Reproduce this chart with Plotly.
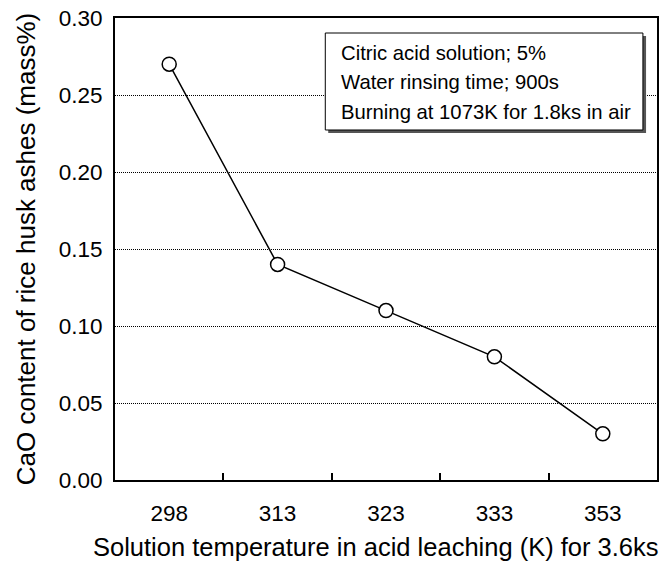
import plotly.graph_objects as go

temps = ["298", "313", "323", "333", "353"]
cao = [0.27, 0.14, 0.11, 0.08, 0.03]
y_ticks = [0.00, 0.05, 0.10, 0.15, 0.20, 0.25, 0.30]
notes = ["Citric acid solution; 5%", "Water rinsing time; 900s", "Burning at 1073K for 1.8ks in air"]
x_title = "Solution temperature in acid leaching (K) for 3.6ks"
y_title = "CaO content of rice husk ashes (mass%)"

FONT = "Liberation Sans, Arial, sans-serif"

fig = go.Figure()
fig.add_trace(go.Scatter(
    x=temps, y=cao, mode="lines+markers",
    line=dict(color="black", width=1.5),
    marker=dict(symbol="circle", size=14, color="white", line=dict(color="black", width=1.5)),
    showlegend=False, cliponaxis=False,
))

fig.update_layout(
    width=665, height=561,
    margin=dict(l=115, r=6, t=18, b=81),
    paper_bgcolor="white", plot_bgcolor="white",
    font=dict(family=FONT, color="black", size=22),
)
fig.update_xaxes(
    type="category", range=[-0.5, 4.5],
    showline=True, linecolor="black", linewidth=2, mirror=True,
    ticks="inside", tickson="boundaries", ticklen=7, tickwidth=1.5, tickcolor="black",
    showgrid=False, tickfont=dict(size=22.5), ticklabelstandoff=12,
)
fig.update_yaxes(
    range=[0, 0.30], tickvals=y_ticks, ticktext=[f"{v:.2f}" for v in y_ticks],
    showline=True, linecolor="black", linewidth=2, mirror=True,
    ticks="", showgrid=True, gridcolor="black", gridwidth=1, griddash="1px,1px",
    zeroline=False, tickfont=dict(size=22.5), ticklabelstandoff=6,
    title=dict(text=y_title, font=dict(size=26), standoff=16),
)

# x axis title (slightly left of centre, as in the reference)
fig.add_annotation(text=x_title, xref="paper", yref="paper", x=0.4816, y=-0.1104,
                   xanchor="center", yanchor="top", showarrow=False,
                   font=dict(size=25.5, family=FONT, color="black"))

# shadow and box
fig.add_shape(type="rect", xref="paper", yref="paper", x0=0.3934, x1=0.9798, y0=0.751, y1=0.961,
              fillcolor="#555555", line=dict(width=0), layer="above")
fig.add_shape(type="rect", xref="paper", yref="paper", x0=0.388, x1=0.974, y0=0.7576, y1=0.9675,
              fillcolor="white", line=dict(color="black", width=1), layer="above")
for t, yy in zip(notes, [0.924, 0.861, 0.797]):
    fig.add_annotation(text=t, xref="paper", yref="paper", x=0.4136, y=yy,
                       xanchor="left", yanchor="middle", showarrow=False,
                       font=dict(size=20.3, family=FONT, color="black"))

fig.write_html("out.html")
